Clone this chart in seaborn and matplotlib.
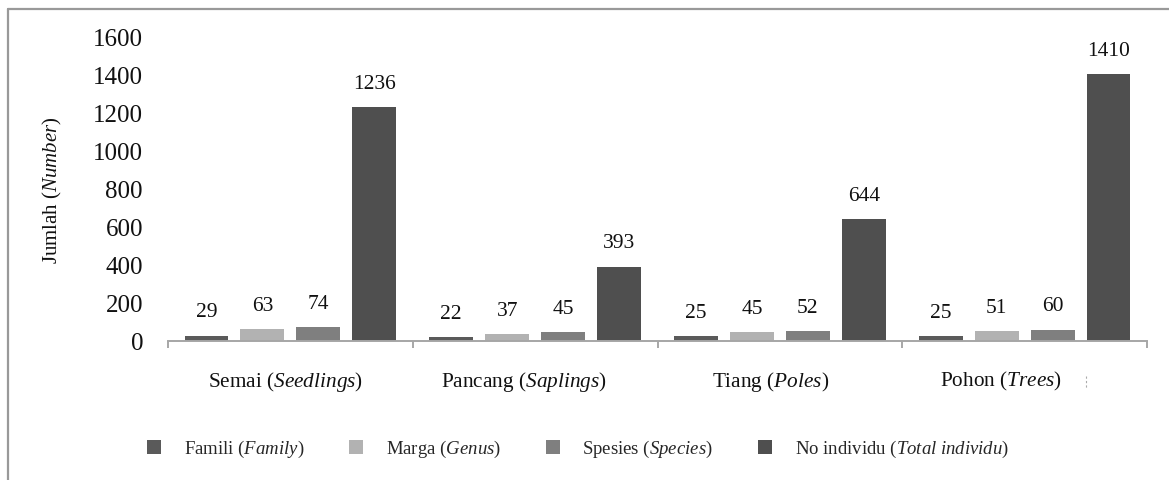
import matplotlib
matplotlib.use("Agg")
import matplotlib.pyplot as plt
import matplotlib.transforms as mtransforms
import seaborn as sns
import pandas as pd
from matplotlib.lines import Line2D
from matplotlib.ticker import FixedLocator

# ---- data ----
categories = [r"Semai ($\mathit{Seedlings}$)", r"Pancang ($\mathit{Saplings}$)",
              r"Tiang ($\mathit{Poles}$)", r"Pohon ($\mathit{Trees}$)"]
series_names = [r"Famili ($\mathit{Family}$)", r"Marga ($\mathit{Genus}$)",
                r"Spesies ($\mathit{Species}$)", r"No individu ($\mathit{Total\ individu}$)"]
famili = [29, 22, 25, 25]
marga = [63, 37, 45, 51]
spesies = [74, 45, 52, 60]
individu = [1236, 393, 644, 1410]
y_ticks = [0, 200, 400, 600, 800, 1000, 1200, 1400, 1600]
y_label = r"Jumlah ($\mathit{Number}$)"

colors = ["#5a5a5a", "#b2b2b2", "#7f7f7f", "#4f4f4f"]

rows = []
for name, vals in zip(series_names, [famili, marga, spesies, individu]):
    for cat, v in zip(categories, vals):
        rows.append({"Kategori": cat, "Seri": name, "Jumlah": v})
df = pd.DataFrame(rows)

sns.set_theme(style="white")
plt.rcParams["font.family"] = ["Liberation Serif", "DejaVu Serif"]
plt.rcParams["mathtext.fontset"] = "custom"
plt.rcParams["mathtext.rm"] = "Liberation Serif"
plt.rcParams["mathtext.it"] = "Liberation Serif:italic"

W, H = 1169, 480
fig = plt.figure(figsize=(W / 100, H / 100), dpi=100)
ax_left, ax_right, ax_bottom, ax_top = 168, 1147, 341, 38
ax = fig.add_axes([ax_left / W, 1 - ax_bottom / H, (ax_right - ax_left) / W, (ax_bottom - ax_top) / H])

sns.barplot(data=df, x="Kategori", y="Jumlah", hue="Seri", order=categories,
            hue_order=series_names, palette=colors, width=0.914, gap=0.214,
            linewidth=0, saturation=1, ax=ax, legend=True)

for cont in ax.containers:
    ax.bar_label(cont, padding=9.5, fontsize=15.5, color="#111111")

ax.set_xlim(-0.5, len(categories) - 0.5)
ax.set_ylim(0, 1600)
ax.set_yticks(y_ticks)
ax.set_yticklabels([str(t) for t in y_ticks], fontsize=18)
ax.tick_params(axis="y", length=0, pad=18, colors="#111111")
ax.tick_params(axis="x", which="major", length=0, pad=21, labelsize=15.3, colors="#111111")
ax.xaxis.set_minor_locator(FixedLocator([i - 0.5 for i in range(len(categories) + 1)]))
ax.tick_params(axis="x", which="minor", length=5, width=1.3, color="#a0a0a0", direction="out", bottom=True)
ax.set_xlabel("")
ax.set_ylabel("")

# category labels sit slightly left of the group centres in the reference
label_shift_px = [-5, -11, -9, -24]
for lab, dx in zip(ax.get_xticklabels(), label_shift_px):
    lab.set_transform(lab.get_transform() + mtransforms.ScaledTranslation(dx / 100, 0, fig.dpi_scale_trans))

for s in ["left", "top", "right"]:
    ax.spines[s].set_visible(False)
ax.spines["bottom"].set_color("#a6a6a6")
ax.spines["bottom"].set_linewidth(1.4)

fig.text(52 / W, 1 - 190 / H, y_label, rotation=90, ha="center", va="center",
         fontsize=15, color="#111111")

handles, labels = ax.get_legend_handles_labels()
ax.get_legend().remove()
fig.legend(handles, labels, loc="center left", bbox_to_anchor=(147 / W, 1 - 449 / H),
           ncol=4, frameon=False, fontsize=13.5, handlelength=0.75, handleheight=0.75,
           handletextpad=1.2, columnspacing=2.4, borderpad=0, borderaxespad=0)

# outer frame (left and top edges visible)
fig.add_artist(Line2D([8 / W, 8 / W], [1 - 9 / H, 0], color="#999999", lw=1.6))
fig.add_artist(Line2D([8 / W, 1], [1 - 9 / H, 1 - 9 / H], color="#999999", lw=1.6))
# small stray dotted mark near the last category label
fig.add_artist(Line2D([1086 / W, 1086 / W], [1 - 376 / H, 1 - 388 / H], color="#aaaaaa",
                      lw=0.8, ls=(0, (2, 2))))

fig.savefig("out.png", dpi=100)
